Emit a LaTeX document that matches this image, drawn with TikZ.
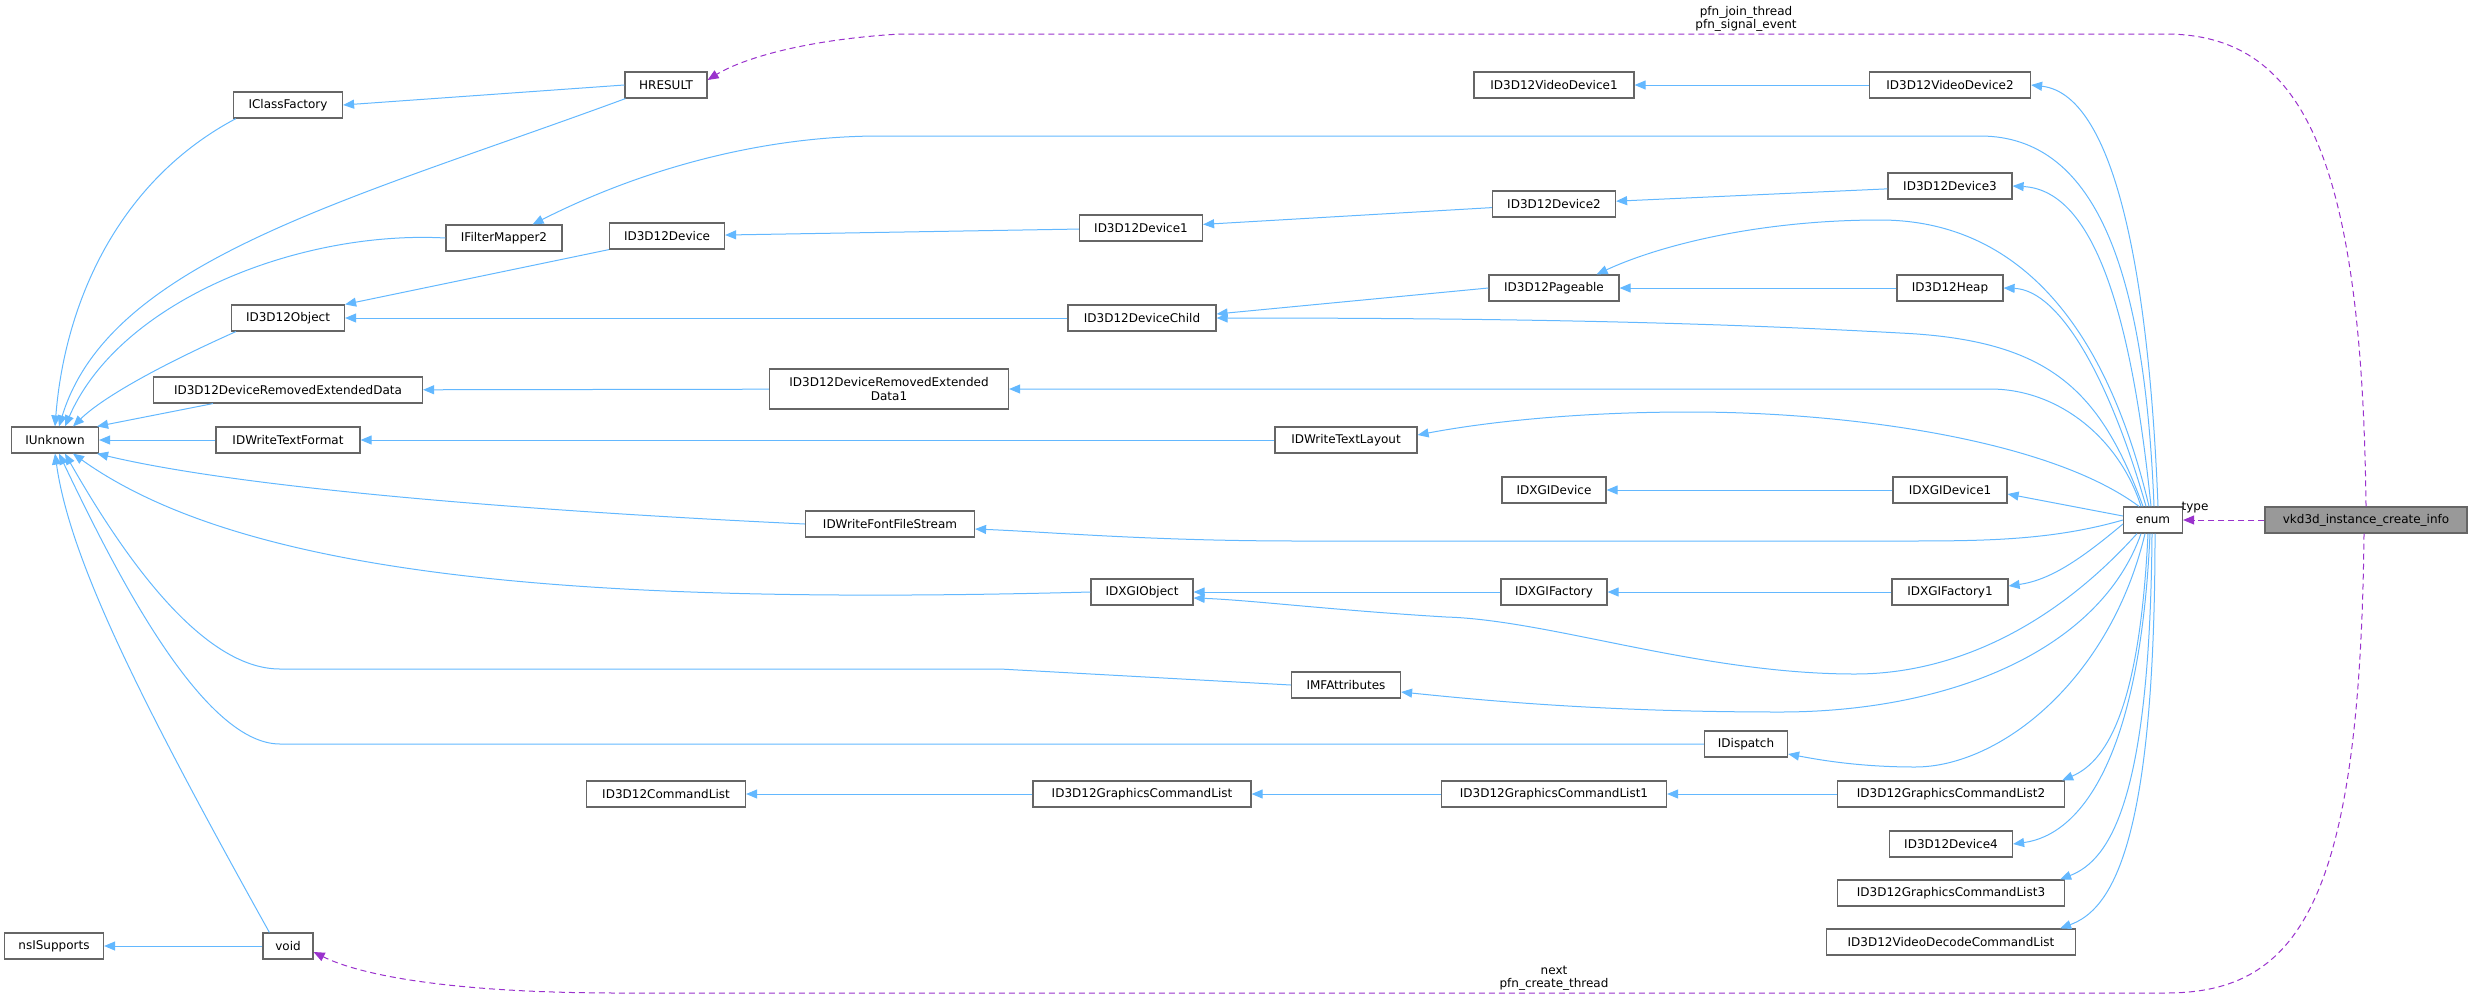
\documentclass[tikz,border=0pt]{standalone}
\usepackage{fontspec}
\setmainfont{DejaVu Sans}
\usetikzlibrary{arrows.meta}
\definecolor{eb}{HTML}{63B8FF}
\definecolor{ep}{HTML}{9A32CD}
\definecolor{bd}{HTML}{666666}
\begin{document}
\begin{tikzpicture}[x=1pt,y=-1pt,
  box/.style={draw=bd,line width=1.2pt,fill=white,rectangle,minimum height=26pt,inner sep=1pt,font=\fontsize{12}{14}\selectfont},
  inh/.style={draw=eb,line width=1pt,-{Triangle[length=11pt,width=9pt]}},
  usg/.style={draw=ep,line width=1pt,dash pattern=on 6pt off 4pt,-{Triangle[length=11pt,width=9pt]}},
  lbl/.style={font=\fontsize{12}{13}\selectfont,align=center,inner sep=0pt}]
\useasboundingbox (0,0) rectangle (2472,999);
% nodes
\node[box,minimum width=202pt,fill=gray!80] (vk) at (2366,520) {vkd3d\_instance\_create\_info};
\node[box,minimum width=59pt] (enum) at (2153,520) {enum};
\node[box,minimum width=87pt] (IU) at (55,440) {IUnknown};
\node[box,minimum width=109pt] (ICF) at (288,105) {IClassFactory};
\node[box,minimum width=82pt] (HR) at (666,85) {HRESULT};
\node[box,minimum width=116pt] (IFM) at (504,238) {IFilterMapper2};
\node[box,minimum width=115pt] (D0) at (667,236) {ID3D12Device};
\node[box,minimum width=113pt] (OBJ) at (288,318) {ID3D12Object};
\node[box,minimum width=269pt] (DRED) at (288,390) {ID3D12DeviceRemovedExtendedData};
\node[box,minimum width=239pt,minimum height=40pt,align=center] (DRED1) at (889,389) {ID3D12DeviceRemovedExtended\\Data1};
\node[box,minimum width=144pt] (TF) at (288,440) {IDWriteTextFormat};
\node[box,minimum width=169pt] (FFS) at (890,524) {IDWriteFontFileStream};
\node[box,minimum width=159pt] (CL) at (666,794) {ID3D12CommandList};
\node[box,minimum width=99pt] (NS) at (54,946) {nsISupports};
\node[box,minimum width=50pt] (VOID) at (288,946) {void};
\node[box,minimum width=160pt] (VD1) at (1554,85) {ID3D12VideoDevice1};
\node[box,minimum width=161pt] (VD2) at (1950,85) {ID3D12VideoDevice2};
\node[box,minimum width=123pt] (D2) at (1554,204) {ID3D12Device2};
\node[box,minimum width=123pt] (D1) at (1141,228) {ID3D12Device1};
\node[box,minimum width=124pt] (D3) at (1950,186) {ID3D12Device3};
\node[box,minimum width=130pt] (PG) at (1554,288) {ID3D12Pageable};
\node[box,minimum width=106pt] (HP) at (1950,288) {ID3D12Heap};
\node[box,minimum width=148pt] (DC) at (1142,318) {ID3D12DeviceChild};
\node[box,minimum width=142pt] (TL) at (1346,440) {IDWriteTextLayout};
\node[box,minimum width=104pt] (XD) at (1554,490) {IDXGIDevice};
\node[box,minimum width=114pt] (XD1) at (1950,490) {IDXGIDevice1};
\node[box,minimum width=102pt] (XO) at (1142,592) {IDXGIObject};
\node[box,minimum width=106pt] (XF) at (1554,592) {IDXGIFactory};
\node[box,minimum width=116pt] (XF1) at (1950,592) {IDXGIFactory1};
\node[box,minimum width=109pt] (MF) at (1346,685) {IMFAttributes};
\node[box,minimum width=83pt] (DISP) at (1746,744) {IDispatch};
\node[box,minimum width=218pt] (GCL) at (1142,794) {ID3D12GraphicsCommandList};
\node[box,minimum width=225pt] (GCL1) at (1554,794) {ID3D12GraphicsCommandList1};
\node[box,minimum width=227pt] (GCL2) at (1951,794) {ID3D12GraphicsCommandList2};
\node[box,minimum width=123pt] (D4) at (1951,844) {ID3D12Device4};
\node[box,minimum width=227pt] (GCL3) at (1951,893) {ID3D12GraphicsCommandList3};
\node[box,minimum width=249pt] (VDCL) at (1951,942) {ID3D12VideoDecodeCommandList};
% IUnknown edges
\draw[inh] ([xshift=3pt]ICF.south west) .. controls (120,180) and (65,300) .. ([xshift=0pt]IU.north);
\draw[inh] ([xshift=1pt]HR.south west) .. controls (350,200) and (110,260) .. ([xshift=4pt]IU.north);
\draw[inh] (IFM.west) .. controls (300,230) and (120,300) .. ([xshift=10pt]IU.north);
\draw[inh] ([xshift=5pt]OBJ.south west) .. controls (150,370) and (100,400) .. ([xshift=18pt]IU.north);
\draw[inh] ([xshift=60pt]DRED.south west) -- ([xshift=-2pt]IU.north east);
\draw[inh] (TF) -- (IU);
\draw[inh] (FFS.west) .. controls (550,512) and (250,490) .. ([xshift=-2pt]IU.south east);
\draw[inh] (XO.west) .. controls (600,605) and (250,580) .. ([xshift=18pt]IU.south);
\draw[inh] (MF.west) -- (1000,669) -- (280,669) .. controls (200,669) and (120,550) .. ([xshift=10pt]IU.south);
\draw[inh] (DISP.west) -- (280,744) .. controls (200,744) and (110,560) .. ([xshift=4pt]IU.south);
\draw[inh] ([xshift=7pt]VOID.north west) .. controls (140,700) and (70,560) .. ([xshift=0pt]IU.south);
\draw[inh] (VOID) -- (NS);
% chains
\draw[inh] (HR.west) -- (ICF.east);
\draw[inh] (D0.south west) -- (OBJ.north east);
\draw[inh] (D1) -- (D0);
\draw[inh] (DC) -- (OBJ);
\draw[inh] (DRED1) -- (DRED);
\draw[inh] (TL) -- (TF);
\draw[inh] (D2) -- (D1);
\draw[inh] (PG.west) -- ([yshift=4pt]DC.east);
\draw[inh] (XF) -- (XO);
\draw[inh] (GCL) -- (CL);
\draw[inh] (GCL1) -- (GCL);
\draw[inh] (VD2) -- (VD1);
\draw[inh] (D3) -- (D2);
\draw[inh] (HP) -- (PG);
\draw[inh] (XD1) -- (XD);
\draw[inh] (XF1) -- (XF);
\draw[inh] (GCL2) -- (GCL1);
% enum edges
\draw[inh] ([xshift=5pt]enum.north) .. controls (2150,300) and (2120,95) .. (VD2.east);
\draw[inh] ([xshift=1pt]enum.north) .. controls (2145,280) and (2100,136) .. (1980,136) -- (880,136) .. controls (760,136) and (640,170) .. ([xshift=-30pt]IFM.north east);
\draw[inh] ([xshift=-2pt]enum.north) .. controls (2130,300) and (2090,190) .. (D3.east);
\draw[inh] ([xshift=-4pt]enum.north) .. controls (2100,300) and (2000,220) .. (1880,220) .. controls (1760,220) and (1660,245) .. ([xshift=-23pt]PG.north east);
\draw[inh] ([xshift=-7pt]enum.north) .. controls (2110,380) and (2060,290) .. (HP.east);
\draw[inh] ([xshift=-10pt]enum.north) .. controls (2100,390) and (2050,340) .. (1900,333) .. controls (1700,322) and (1500,318) .. (DC.east);
\draw[inh] ([xshift=-12pt]enum.north) .. controls (2120,440) and (2060,389) .. (1990,389) -- (DRED1.east);
\draw[inh] ([xshift=-14pt]enum.north) .. controls (2050,440) and (1850,412) .. (1690,412) .. controls (1560,412) and (1470,425) .. ([yshift=5pt]TL.east);
\draw[inh] ([yshift=4pt]enum.west) -- ([yshift=-4pt]XD1.east);
\draw[inh] (enum.west) .. controls (2050,541) and (1980,541) .. (1900,541) -- (1300,541) .. controls (1150,541) and (1050,532) .. ([yshift=-5pt]FFS.east);
\draw[inh] ([yshift=-4pt]enum.west) .. controls (2080,560) and (2050,580) .. ([yshift=6pt]XF1.east);
\draw[inh] ([xshift=-16pt]enum.south) .. controls (2050,630) and (1950,674) .. (1855,674) .. controls (1700,674) and (1550,620) .. (1446,617) .. controls (1330,610) and (1250,600) .. ([yshift=-6pt]XO.east);
\draw[inh] ([xshift=-12pt]enum.south) .. controls (2100,650) and (1950,712) .. (1780,712) .. controls (1600,712) and (1480,700) .. ([yshift=-7pt]MF.east);
\draw[inh] ([xshift=-8pt]enum.south) .. controls (2110,680) and (2000,767) .. (1915,767) .. controls (1860,767) and (1820,760) .. ([yshift=-10pt]DISP.east);
\draw[inh] ([xshift=-5pt]enum.south) .. controls (2140,700) and (2110,760) .. ([xshift=-3pt]GCL2.north east);
\draw[inh] ([xshift=-3pt]enum.south) .. controls (2140,760) and (2080,835) .. (D4.east);
\draw[inh] ([xshift=-1pt]enum.south) .. controls (2150,800) and (2110,860) .. ([xshift=-5pt]GCL3.north east);
\draw[inh] ([xshift=2pt]enum.south) .. controls (2155,850) and (2110,910) .. ([xshift=-16pt]VDCL.north east);
% usage edges
\draw[usg] (vk) -- (enum);
\node[lbl] (lt) at (2195,508) {type};
\draw[usg] (vk.north) .. controls (2362,150) and (2300,34) .. (2165,34) -- (900,34) .. controls (800,40) and (740,60) .. ([yshift=5pt]HR.east);
\node[lbl] (lj) at (1746,19) {pfn\_join\_thread\\pfn\_signal\_event};
\draw[usg] ([xshift=-2pt]vk.south) .. controls (2360,900) and (2300,993) .. (2166,993) -- (620,993) .. controls (450,993) and (360,975) .. ([yshift=-6pt]VOID.east);
\node[lbl] (ln) at (1554,978) {next\\pfn\_create\_thread};
\end{tikzpicture}
\end{document}
